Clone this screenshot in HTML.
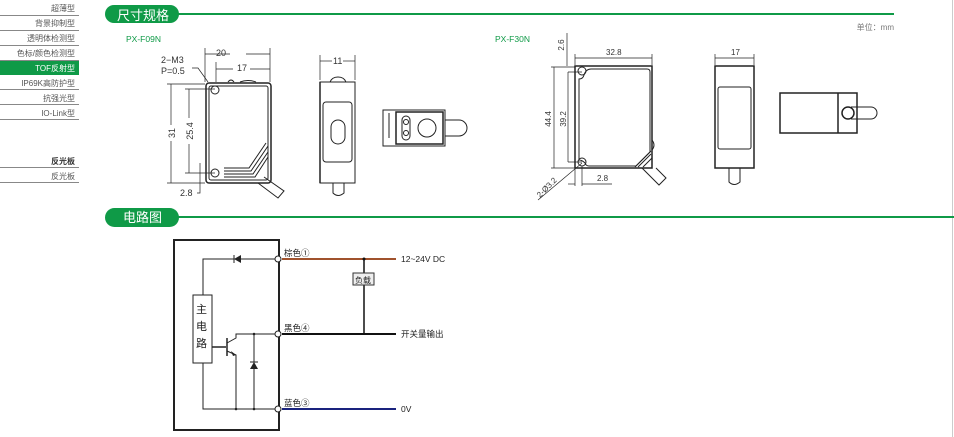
<!DOCTYPE html>
<html><head><meta charset="utf-8"><style>
html,body{margin:0;padding:0;background:#fff;width:954px;height:437px;overflow:hidden}
svg{display:block}
text{font-family:"Liberation Sans","Noto Sans CJK SC",sans-serif}
</style></head><body>
<svg width="954" height="437" viewBox="0 0 954 437" xmlns="http://www.w3.org/2000/svg">
<!-- sidebar -->
<g font-size="8" fill="#555" text-anchor="end">
<text x="75" y="11">超薄型</text>
<text x="75" y="26">背景抑制型</text>
<text x="75" y="41">透明体检测型</text>
<text x="75" y="56">色标/颜色检测型</text>
<rect x="0" y="61" width="79" height="14" fill="#0f9a47"/>
<text x="75" y="71" fill="#fff">TOF反射型</text>
<text x="75" y="86">IP69K高防护型</text>
<text x="75" y="101">抗强光型</text>
<text x="75" y="116">IO-Link型</text>
<text x="75" y="164" font-weight="bold" fill="#333">反光板</text>
<text x="75" y="179">反光板</text>
</g>
<g stroke="#888" stroke-width="1">
<line x1="0" y1="15.5" x2="79" y2="15.5"/><line x1="0" y1="30.5" x2="79" y2="30.5"/>
<line x1="0" y1="45.5" x2="79" y2="45.5"/><line x1="0" y1="60.5" x2="79" y2="60.5"/>
<line x1="0" y1="89.5" x2="79" y2="89.5"/><line x1="0" y1="104.5" x2="79" y2="104.5"/>
<line x1="0" y1="119.5" x2="79" y2="119.5"/><line x1="0" y1="167.5" x2="79" y2="167.5"/>
<line x1="0" y1="182.5" x2="79" y2="182.5"/>
</g>
<line x1="952.5" y1="0" x2="952.5" y2="437" stroke="#ccc"/>
<!-- headers -->
<rect x="105" y="5" width="74" height="18" rx="9" fill="#0f9a47"/>
<text x="117" y="20" font-size="13" fill="#fff">尺寸规格</text>
<line x1="178" y1="14" x2="894" y2="14" stroke="#0f9a47" stroke-width="2"/>
<rect x="105" y="208" width="74" height="19" rx="9.5" fill="#0f9a47"/>
<text x="123" y="222" font-size="13" fill="#fff">电路图</text>
<line x1="178" y1="217" x2="954" y2="217" stroke="#0f9a47" stroke-width="2"/>
<text x="894" y="30" font-size="8" fill="#777" text-anchor="end">单位：mm</text>
<text x="126" y="42" font-size="8.5" fill="#0f9a47">PX-F09N</text>
<text x="495" y="42" font-size="8.5" fill="#0f9a47">PX-F30N</text>

<g fill="none" stroke="#222" stroke-width="1">
<!-- F09N front -->
<rect x="206" y="83" width="65" height="100" rx="3" stroke-width="1.5"/>
<rect x="209" y="86" width="59" height="94" rx="2"/>
<circle cx="215" cy="90" r="4"/><circle cx="215" cy="173" r="4"/>
<path d="M228 82 q3 -4 6 0 M240 82 q8 -3 16 0"/>
<path d="M224 168 h25 l17 -25 M224 171 h27 l17 -25 M224 174 h29 l15 -22 M224 177 h31 l13 -20"/>
<path d="M258 183 l20 15 l6 -7 l-20 -14"/>
<!-- dims -->
<g stroke-width="0.7">
<line x1="205" y1="48" x2="205" y2="82"/><line x1="270" y1="48" x2="270" y2="82"/>
<line x1="205" y1="54" x2="230" y2="54"/><line x1="246" y1="54" x2="270" y2="54"/>
<line x1="216" y1="62" x2="216" y2="82"/>
<line x1="216" y1="69" x2="233" y2="69"/><line x1="250" y1="69" x2="270" y2="69"/>
<line x1="167" y1="84" x2="205" y2="84"/><line x1="167" y1="183" x2="205" y2="183"/>
<line x1="171" y1="84" x2="171" y2="125"/><line x1="171" y1="141" x2="171" y2="183"/>
<line x1="185" y1="89" x2="215" y2="89"/><line x1="185" y1="173" x2="215" y2="173"/>
<line x1="189" y1="89" x2="189" y2="118"/><line x1="189" y1="144" x2="189" y2="173"/>
<path d="M192 68 h6 l10 14"/>
<path d="M200 163 v30 h-3"/>
</g>
<!-- F09N side -->
<rect x="320" y="82" width="35" height="101"/>
<line x1="320" y1="82" x2="320" y2="183" stroke-width="1.5"/>
<rect x="323" y="102" width="29" height="60" rx="3"/>
<rect x="331" y="120" width="14" height="24" rx="7"/>
<path d="M330 82 q2 -5 8 -5 q6 0 8 5"/>
<path d="M333 183 v10 q5 5 11 0 v-10"/>
<g stroke-width="0.7"><line x1="320" y1="55" x2="320" y2="80"/><line x1="355" y1="55" x2="355" y2="80"/>
<line x1="320" y1="61" x2="332" y2="61"/><line x1="343" y1="61" x2="355" y2="61"/></g>
<!-- F09N top -->
<rect x="383" y="110" width="62" height="36"/>
<rect x="396" y="112" width="47" height="32" stroke-width="1.5"/>
<line x1="389" y1="113" x2="389" y2="138"/>
<rect x="402" y="116" width="8" height="24" rx="4"/>
<circle cx="406" cy="122" r="2.5"/><circle cx="406" cy="133" r="2.5"/>
<circle cx="427" cy="128" r="9"/>
<path d="M445 120 h14 a8 8 0 0 1 0 16 h-14"/>
<!-- F30N front -->
<rect x="575" y="66" width="77" height="102" stroke-width="1.5"/>
<path d="M591 69 h56 q3 0 3 3 v80 l-14 14 h-47 q-3 0 -4 -3 q-3 -3 -6 -3 v-81 q4 0 5 -4 q2 -6 7 -6z"/>
<circle cx="582" cy="71" r="4"/><circle cx="582" cy="162" r="4"/>
<path d="M635 167 l16 -16 M638 167 l13 -13 M643 167 l9 -9"/>
<path d="M652 140 q4 5 0 10"/>
<path d="M642 168 l17 17 l7 -7 l-10 -10"/>
<g stroke-width="0.7">
<line x1="575" y1="54" x2="575" y2="65"/><line x1="652" y1="54" x2="652" y2="65"/>
<line x1="575" y1="58" x2="652" y2="58"/>
<line x1="567" y1="33" x2="567" y2="66"/>
<line x1="551" y1="67" x2="575" y2="67"/><line x1="551" y1="168" x2="575" y2="168"/>
<line x1="554" y1="67" x2="554" y2="168"/>
<path d="M568 72 h14 M568 162 h14 M568 72 v90"/>
<line x1="575" y1="168" x2="575" y2="186"/><line x1="582" y1="166" x2="582" y2="186"/>
<line x1="568" y1="184" x2="575" y2="184"/><line x1="582" y1="184" x2="612" y2="184"/>
<line x1="538" y1="200" x2="582" y2="163"/>
</g>
<!-- F30N side -->
<rect x="715" y="66" width="39" height="102" stroke-width="1.5"/>
<rect x="718" y="87" width="33" height="62" rx="2"/>
<path d="M729 168 v14 q5 5 11 0 v-14"/>
<g stroke-width="0.7"><line x1="715" y1="54" x2="715" y2="65"/><line x1="754" y1="54" x2="754" y2="65"/>
<line x1="715" y1="58" x2="754" y2="58"/></g>
<!-- F30N top -->
<rect x="780" y="93" width="77" height="40" stroke-width="1.5"/>
<line x1="838" y1="93" x2="838" y2="133" stroke-width="1.5"/>
<circle cx="848" cy="113" r="6" stroke-width="1.5"/>
<path d="M851 107 h20 a6 6 0 0 1 0 12 h-20"/>
</g>
<g font-size="8" fill="#333">
<text x="216" y="56" font-size="9">20</text>
<text x="237" y="71" font-size="9">17</text>
<text x="161" y="63" font-size="9">2−M3</text>
<text x="161" y="74" font-size="9">P=0.5</text>
<text x="180" y="196" font-size="9">2.8</text>
<text transform="translate(175,133) rotate(-90)" text-anchor="middle" font-size="9">31</text>
<text transform="translate(193,131) rotate(-90)" text-anchor="middle" font-size="9">25.4</text>
<text x="333" y="64" font-size="9">11</text>
<text x="606" y="55">32.8</text>
<text transform="translate(564,45) rotate(-90)" text-anchor="middle">2.6</text>
<text transform="translate(551,119) rotate(-90)" text-anchor="middle">44.4</text>
<text transform="translate(566,119) rotate(-90)" text-anchor="middle">39.2</text>
<text x="597" y="181">2.8</text>
<text transform="translate(540,198) rotate(-45)">2-Ø3.2</text>
<text x="731" y="55">17</text>
</g>

<!-- circuit -->
<rect x="174" y="240" width="105" height="190" fill="none" stroke="#222" stroke-width="2"/>
<g stroke="#222" fill="none" stroke-width="1">
<path d="M278 259 H203 V295"/>
<path d="M203 363 V409 H278"/>
<rect x="193" y="295" width="19" height="68"/>
<path d="M212 347 H226" stroke-width="1.5"/>
<line x1="227" y1="338" x2="227" y2="356" stroke-width="1.5"/>
<path d="M227 343 L236 338 V334 H278"/>
<path d="M227 351 L236 355 V409"/>
<line x1="254" y1="334" x2="254" y2="409"/>
<line x1="234" y1="255" x2="234" y2="263"/>
<line x1="250" y1="362" x2="258" y2="362"/>
</g>
<polygon points="234,259 241,255 241,263" fill="#222"/>
<polygon points="254,362 250,369 258,369" fill="#222"/>
<polygon points="236,355 231,351 233,356" fill="#222"/>
<circle cx="236" cy="409" r="1.3" fill="#222"/><circle cx="254" cy="409" r="1.3" fill="#222"/><circle cx="254" cy="334" r="1.3" fill="#222"/>
<text x="196" y="313" font-size="11" fill="#222">主</text>
<text x="196" y="330" font-size="11" fill="#222">电</text>
<text x="196" y="347" font-size="11" fill="#222">路</text>
<line x1="282" y1="259" x2="396" y2="259" stroke="#a0522d" stroke-width="2"/>
<line x1="282" y1="334" x2="396" y2="334" stroke="#111" stroke-width="2"/>
<line x1="282" y1="409" x2="396" y2="409" stroke="#1a237e" stroke-width="2"/>
<line x1="364" y1="259" x2="364" y2="334" stroke="#111" stroke-width="1.5"/>
<circle cx="364" cy="259" r="1.5" fill="#111"/>
<rect x="353" y="273" width="21" height="12" fill="#eee" stroke="#333"/>
<text x="355" y="283" font-size="8" fill="#222">负载</text>
<circle cx="278" cy="259" r="3" fill="#fff" stroke="#222"/>
<circle cx="278" cy="334" r="3" fill="#fff" stroke="#222"/>
<circle cx="278" cy="409" r="3" fill="#fff" stroke="#222"/>
<g font-size="8.5" fill="#222">
<text x="284" y="256">棕色①</text>
<text x="284" y="331">黑色④</text>
<text x="284" y="406">蓝色③</text>
<text x="401" y="262">12~24V DC</text>
<text x="401" y="337">开关量输出</text>
<text x="401" y="412">0V</text>
</g>
</svg>
</body></html>
